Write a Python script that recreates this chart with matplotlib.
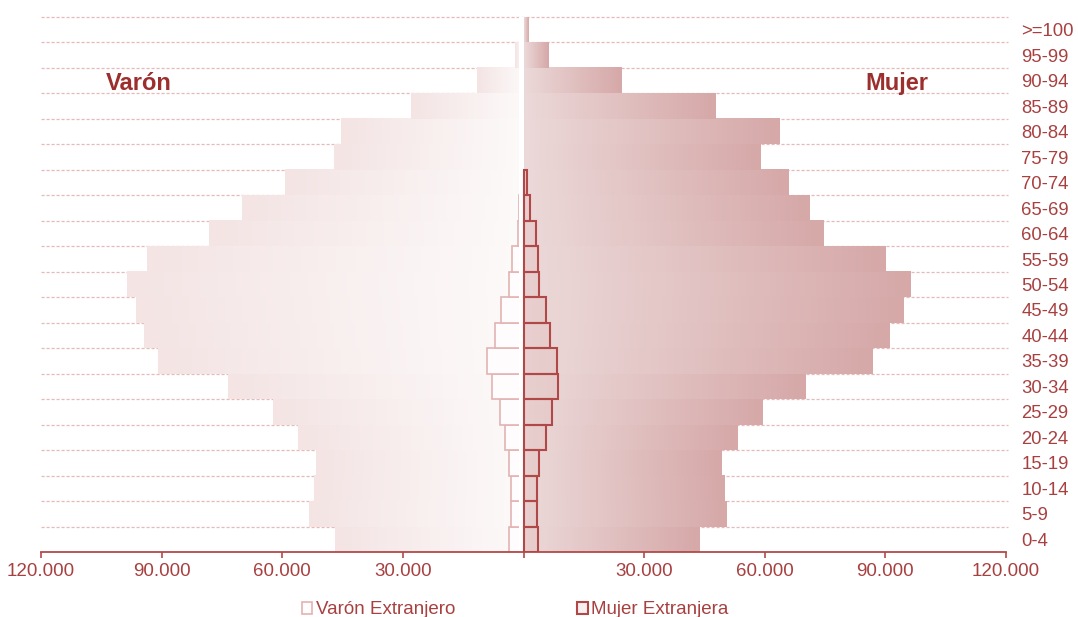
import numpy as np
import matplotlib
matplotlib.use('Agg')
import matplotlib.pyplot as plt
from matplotlib.colors import LinearSegmentedColormap

plt.rcParams['font.family'] = ['Liberation Sans', 'DejaVu Sans']

# Piramide de poblacion: totales y extranjeros por grupo de edad
edades = ['0-4', '5-9', '10-14', '15-19', '20-24', '25-29', '30-34', '35-39',
          '40-44', '45-49', '50-54', '55-59', '60-64', '65-69', '70-74',
          '75-79', '80-84', '85-89', '90-94', '95-99', '>=100']

varon_total = [46900, 53400, 52100, 51600, 56100, 62300, 73500, 91000,
               94400, 96400, 98500, 93600, 78100, 69900, 59400, 47200,
               45400, 28100, 11600, 2100, 300]
mujer_total = [43700, 50400, 49900, 49200, 53200, 59400, 69900, 86600,
               91000, 94500, 96200, 90000, 74600, 71100, 65700, 58700,
               63600, 47700, 24300, 6100, 1100]

varon_extr = [3700, 3000, 3000, 3500, 4700, 5900, 7800, 9000,
              7100, 5500, 3700, 2800, 1400, 1000, 400, 0,
              0, 0, 0, 0, 0]
mujer_extr = [3600, 3400, 3400, 3900, 5500, 7200, 8500, 8400,
              6500, 5500, 3900, 3700, 3200, 1700, 900, 0,
              0, 0, 0, 0, 0]

ticks_x = [-120000, -90000, -60000, -30000, 0, 30000, 60000, 90000, 120000]
ticks_lbl = ['120.000', '90.000', '60.000', '30.000', '',
             '30.000', '60.000', '90.000', '120.000']

rojo = '#a84040'
rojo_osc = '#9c2e2e'
eje = '#b24a4a'

y = np.arange(len(edades))

fig = plt.figure(figsize=(10.78, 6.17), dpi=100)
ax = fig.add_axes([41/1078, 65/617, 965/1078, 535/617])

# lineas de division entre grupos
ax.hlines(y + 0.5, -120000, 120400, colors='#e6baba', lw=0.9,
          linestyles=(0, (2.5, 1.5)), zorder=0, clip_on=False)

# ---------------------------------
# totales con degradado
cm_v = LinearSegmentedColormap.from_list('v', ['#fdfafa', '#f4e4e4'])
cm_m = LinearSegmentedColormap.from_list('m', ['#ecd9d9', '#d6a8a8'])
grad = np.linspace(0, 1, 256).reshape(1, -1)

bars_v = ax.barh(y, -np.array(varon_total), height=1.0, color='none', edgecolor='none')
for b in bars_v:
    ax.imshow(grad, cmap=cm_v, aspect='auto', interpolation='bilinear', zorder=1,
              extent=[b.get_x(), b.get_x() + b.get_width(), b.get_y(), b.get_y() + b.get_height()])

bars_m = ax.barh(y, mujer_total, height=1.0, color='none', edgecolor='none')
for b in bars_m:
    ax.imshow(grad, cmap=cm_m, aspect='auto', interpolation='bilinear', zorder=1,
              extent=[b.get_x(), b.get_x() + b.get_width(), b.get_y(), b.get_y() + b.get_height()])

# ---------------------------------
# extranjeros
bv = ax.barh(y, -np.array(varon_extr), height=1.0, facecolor='#fefcfc',
             edgecolor='#e3b3b3', linewidth=1.2, zorder=2)
ax.axvline(-700, color='white', lw=3.6, zorder=2.5)
bm = ax.barh(y, mujer_extr, height=1.0, facecolor=(0.85, 0.6, 0.6, 0.15),
             edgecolor='#b04848', linewidth=1.5, zorder=3)
for p in list(bv) + list(bm):
    if p.get_width() == 0:
        p.set_visible(False)

ax.set_xlim(-120000, 120000)
ax.set_ylim(-0.5, len(edades) - 0.5)

ax.set_xticks(ticks_x, ticks_lbl)
ax.tick_params(axis='x', colors=eje, labelcolor=rojo, length=4, width=1.2,
               labelsize=13.5, pad=4)
ax.yaxis.tick_right()
ax.set_yticks(y, edades)
ax.tick_params(axis='y', length=0, pad=11, labelsize=13.3, labelcolor=rojo)

for s in ['left', 'top', 'right']:
    ax.spines[s].set_visible(False)
ax.spines['bottom'].set_color(eje)
ax.spines['bottom'].set_linewidth(1.3)

ax.text(0.1016, 0.8766, 'Varón', transform=ax.transAxes, ha='center', va='center',
        fontsize=17, fontweight='bold', color=rojo_osc)
ax.text(0.887, 0.8766, 'Mujer', transform=ax.transAxes, ha='center', va='center',
        fontsize=17, fontweight='bold', color=rojo_osc)

fig.legend(handles=[bv, bm], labels=['Varón Extranjero', 'Mujer Extranjera'],
           loc='center left', bbox_to_anchor=(302/1078, 7/617), ncol=2, frameon=False,
           fontsize=13.5, handlelength=0.55, handleheight=0.55, handletextpad=0.2,
           columnspacing=6.5, borderpad=0, borderaxespad=0, labelcolor=rojo)

fig.savefig('out.png', dpi=100)
